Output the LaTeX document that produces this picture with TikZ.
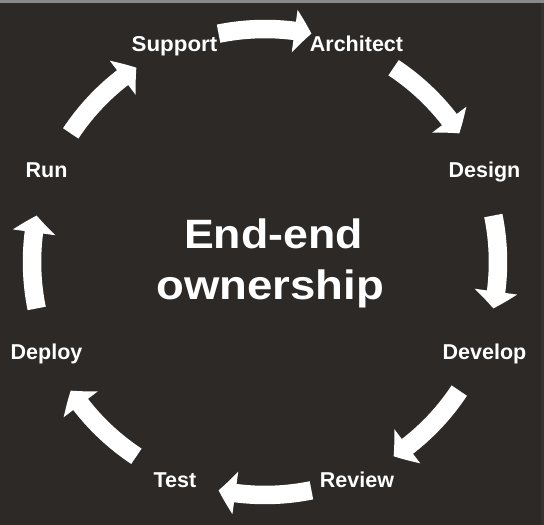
\documentclass[tikz,border=0pt]{standalone}
\usepackage{fontspec}
\setmainfont{Liberation Sans}
\usetikzlibrary{arrows.meta,bending,calc}
\definecolor{bg}{HTML}{2C2927}
\definecolor{topbar}{HTML}{8A8A8A}
\begin{document}
\begin{tikzpicture}[x=1pt,y=1pt,
  lbl/.style={text=white,font=\fontsize{21.5}{25}\selectfont\bfseries,anchor=base,inner sep=0pt},
  big/.style={text=white,font=\fontsize{41}{49}\selectfont\bfseries,anchor=base,inner sep=0pt},
  cyc/.style={draw=white,line width=18.5pt,-{Triangle[width=42pt,length=17pt,bend]}}]
\useasboundingbox (0,0) rectangle (544,525);
\fill[bg] (0,0) rectangle (544,525);
\fill[topbar] (0,522) rectangle (544,525);
\fill[black!70!white,opacity=0.25] (541,0) rectangle (544,522);
\coordinate (c) at (265,263);
% labels
\node[lbl] (support) at (174.5,473) {\scalebox{1.04}[1]{Support}};
\node[lbl] (architect) at (356.5,473) {Architect};
\node[lbl] (design) at (484.5,347) {Design};
\node[lbl] (run) at (46.5,347) {Run};
\node[lbl] (develop) at (484.5,165) {Develop};
\node[lbl] (deploy) at (46.5,165) {Deploy};
\node[lbl] (review) at (357,37) {Review};
\node[lbl] (test) at (175,37) {Test};
\node[big] (t1) at (273.5,276) {\scalebox{1.09}[1]{End-end}};
\node[big] (t2) at (270,225) {\scalebox{1.11}[1]{ownership}};
% arrows
\foreach \a [count=\i] in {90,45,0,-45,-90,-135,180,135}{
  \coordinate (s\i) at ($(c)+(\a+11.5:233)$);
  \draw[cyc] (s\i) arc[start angle=\a+11.5, end angle=\a-11.5, radius=233];
}
\end{tikzpicture}
\end{document}
